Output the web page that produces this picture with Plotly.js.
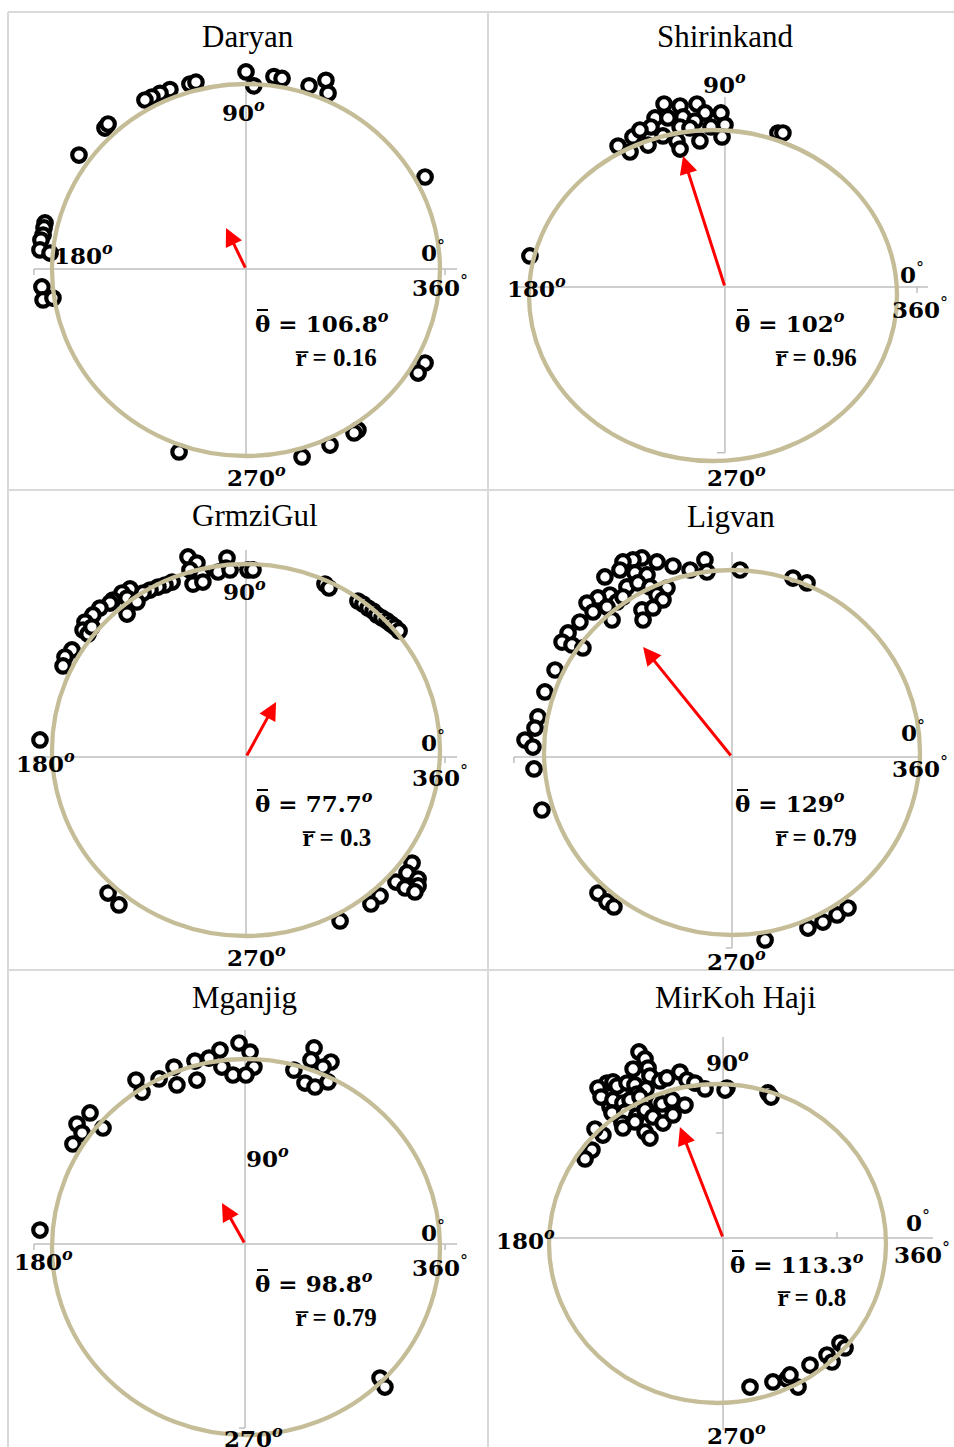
<!DOCTYPE html>
<html><head><meta charset="utf-8">
<script src="https://cdn.plot.ly/plotly-3.0.1.min.js"></script>
<style>html,body{margin:0;padding:0;background:#fff}#chart{width:954px;height:1447px}</style>
</head><body><div id="chart"></div>
<script>
const W = 954, H = 1447;

// ---------- data ----------
const stations = ['Daryan', 'Shirinkand', 'GrmziGul', 'Ligvan', 'Mganjig', 'MirKoh Haji'];
const meanAngles = ['106.8', '102', '77.7', '129', '98.8', '113.3'];
const meanR = ['0.16', '0.96', '0.3', '0.79', '0.79', '0.8'];
// mean-vector arrow head (unit-circle coordinates) as drawn
const arrowHeadX = [-0.103, -0.163, 0.155, -0.473, -0.124, -0.223];
const arrowHeadY = [0.226, 0.843, 0.258, 0.578, 0.234, 0.730];

// observations (unit-circle coordinates, stacked outward where they pile up)
const daryanX = [0, 0.04, 0.144, 0.186, 0.325, 0.412, 0.423, -0.289, -0.258, -0.392, -0.443, -0.485, -0.521, -0.727, -0.711, -0.861, 0.923, -1.036, -1.041, -1.046, -1.057, -1.062, -1.01, -1.052, -1.046, -0.995, 0.923, 0.887, 0.577, 0.557, 0.433, 0.289, -0.345];
const daryanY = [1.065, 0.99, 1.04, 1.03, 0.99, 1.02, 0.95, 1.0, 1.01, 0.97, 0.95, 0.93, 0.914, 0.763, 0.785, 0.618, 0.5, 0.253, 0.226, 0.188, 0.161, 0.108, 0.091, -0.091, -0.161, -0.151, -0.5, -0.554, -0.86, -0.876, -0.941, -1.005, -0.978];

const shirinkandX = [-0.266, -0.179, -0.087, -0.043, 0.043, -0.315, -0.245, -0.163, -0.098, -0.337, -0.179, -0.011, 0.065, -0.272, -0.413, 0.049, -0.071, -0.196, -0.179, -0.353, -0.435, -0.451, -0.516, 0.353, 0.380, -0.995, -0.125, -0.397];
const shirinkandY = [1.157, 1.145, 1.157, 1.103, 1.103, 1.073, 1.073, 1.079, 1.054, 1.018, 1.018, 1.018, 1.03, 0.964, 0.958, 0.958, 0.934, 0.934, 0.885, 0.909, 0.958, 0.867, 0.903, 0.982, 0.982, 0.239, 1.012, 1.0];

const grmziGulX = [-0.299, -0.253, -0.289, -0.227, -0.273, -0.222, -0.098, -0.103, -0.144, -0.082, 0.010, 0.036, -0.381, -0.418, -0.454, -0.495, -0.531, -0.598, -0.639, -0.613, -0.686, -0.701, -0.753, -0.789, -0.830, -0.840, -0.814, -0.794, -0.613, -0.562, -0.897, -0.933, -0.943, -1.062, 0.407, 0.428, 0.577, 0.603, 0.629, 0.655, 0.675, 0.701, 0.727, 0.747, 0.768, 0.789, 0.856, 0.830, 0.887, 0.887, 0.773, 0.820, 0.871, 0.691, 0.644, 0.485, -0.711, -0.655];
const grmziGulY = [1.038, 1.005, 0.968, 0.941, 0.892, 0.903, 1.032, 0.978, 0.957, 0.968, 0.968, 0.968, 0.903, 0.887, 0.876, 0.86, 0.844, 0.866, 0.844, 0.817, 0.806, 0.79, 0.763, 0.726, 0.688, 0.645, 0.624, 0.661, 0.731, 0.796, 0.538, 0.5, 0.452, 0.054, 0.892, 0.871, 0.801, 0.785, 0.763, 0.747, 0.726, 0.71, 0.694, 0.677, 0.661, 0.640, -0.608, -0.661, -0.694, -0.731, -0.710, -0.742, -0.763, -0.785, -0.828, -0.919, -0.769, -0.833];

const ligvanX = [-0.144, -0.133, -0.223, -0.314, -0.399, -0.479, -0.527, -0.580, -0.596, -0.676, -0.516, -0.452, -0.559, -0.5, -0.436, -0.346, -0.649, -0.612, -0.713, -0.771, -0.739, -0.665, -0.580, -0.399, -0.367, -0.479, -0.473, -0.420, -0.638, -0.809, -0.872, -0.904, -0.851, -0.793, -0.941, -0.995, -1.032, -1.048, -1.101, -1.059, -1.053, -1.011, 0.043, 0.324, 0.399, -0.713, -0.665, -0.628, 0.176, 0.404, 0.484, 0.559, 0.617];
const ligvanY = [1.055, 0.989, 1.0, 1.022, 1.044, 1.066, 1.055, 1.044, 1.0, 0.962, 0.984, 0.973, 0.907, 0.929, 0.907, 0.901, 0.863, 0.825, 0.847, 0.819, 0.77, 0.797, 0.852, 0.863, 0.836, 0.781, 0.726, 0.792, 0.726, 0.715, 0.655, 0.605, 0.589, 0.573, 0.452, 0.332, 0.195, 0.134, 0.068, 0.03, -0.09, -0.315, 1.0, 0.956, 0.929, -0.770, -0.819, -0.846, -1.027, -0.962, -0.929, -0.890, -0.852];

const mganjigX = [-0.567, -0.536, -0.448, -0.371, -0.356, -0.263, -0.253, -0.191, -0.134, -0.124, -0.067, -0.036, 0.021, 0.041, 0, -0.871, -0.804, -0.737, -0.892, -0.845, 0.351, 0.335, 0.438, 0.397, 0.247, 0.304, 0.356, 0.423, -1.062, 0.691, 0.716];
const mganjigY = [0.888, 0.824, 0.894, 0.957, 0.862, 0.989, 0.888, 1.005, 1.048, 0.957, 0.915, 1.085, 1.037, 0.957, 0.915, 0.654, 0.713, 0.633, 0.548, 0.606, 1.059, 0.995, 0.984, 0.957, 0.941, 0.872, 0.851, 0.878, 0.09, -0.697, -0.745];

const mirKohHajiX = [-0.466, -0.430, -0.412, -0.501, -0.401, -0.223, -0.656, -0.620, -0.709, -0.691, -0.596, -0.537, -0.490, -0.424, -0.341, -0.300, -0.181, -0.134, -0.074, 0.056, 0.045, 0.300, 0.318, -0.638, -0.620, -0.561, -0.478, -0.519, -0.460, -0.412, -0.359, -0.329, -0.270, -0.193, -0.626, -0.549, -0.478, -0.430, -0.383, -0.323, -0.264, -0.567, -0.490, -0.561, -0.430, -0.401, -0.680, -0.727, -0.745, -0.786, 0.193, 0.329, 0.412, 0.430, 0.478, 0.549, 0.650, 0.680, 0.727, 0.757];
const mirKohHajiY = [1.201, 1.157, 1.100, 1.094, 1.050, 1.075, 1.006, 1.013, 0.975, 0.918, 0.987, 1.006, 0.994, 0.969, 1.019, 1.038, 1.025, 1.006, 0.969, 0.975, 0.962, 0.944, 0.918, 0.856, 0.900, 0.881, 0.937, 0.900, 0.918, 0.868, 0.887, 0.875, 0.900, 0.868, 0.818, 0.824, 0.799, 0.837, 0.793, 0.755, 0.806, 0.755, 0.762, 0.724, 0.699, 0.661, 0.680, 0.718, 0.586, 0.530, -0.900, -0.868, -0.850, -0.824, -0.900, -0.762, -0.699, -0.743, -0.624, -0.655];

const seriesX = [daryanX, shirinkandX, grmziGulX, ligvanX, mganjigX, mirKohHajiX];
const seriesY = [daryanY, shirinkandY, grmziGulY, ligvanY, mganjigY, mirKohHajiY];

// ---------- layout geometry (pixels / axis-line extents) ----------
const panels = [
  {cell:[8,488,12,490], c:[246,270], k:[194,186], o:[0,0.005], h:[-1.093,1.088], v:[-1.005,1.1],
   ticks:[[-1.093,0.005,'v',6],[1.026,0.005,'v',6]],
   title:[248,36], l90:[243,111], l180:[83,254], l0:[433,251], l360:[440,286], l270:[256,476], th:[253,322], rr:[293,357]},
  {cell:[488,954,12,490], c:[713,295.5], k:[184,165.5], o:[0.065,0.051], h:[-1.065,1.168], v:[-0.95,1.2],
   ticks:[[-1.065,0.051,'v',6],[1.109,0.051,'v',6],[0.065,-0.95,'h',-8]],
   title:[725,36], l90:[724,83], l180:[536,287], l0:[912,273], l360:[920,308], l270:[736,476], th:[733,322], rr:[773,357]},
  {cell:[8,488,490,970], c:[246,750], k:[194,186], o:[0,-0.038], h:[-1.093,1.088], v:[-1.005,1.075],
   ticks:[[-1.093,-0.038,'v',6],[1.026,-0.038,'v',6]],
   title:[255,515], l90:[244,590], l180:[45,762], l0:[433,741], l360:[440,776], l270:[256,956], th:[253,802], rr:[300,837]},
  {cell:[488,954,490,970], c:[732,752.5], k:[188,182.5], o:[0,-0.025], h:[-1.16,0.99], v:[-1.071,1.099],
   ticks:[[-1.16,-0.025,'v',6],[0,-1.071,'h',-6]],
   title:[731,517], l90:null, l180:null, l0:[913,731], l360:[920,767], l270:[736,960], th:[733,802], rr:[773,837]},
  {cell:[8,488,970,1447], c:[246,1247], k:[194,188], o:[-0.005,0.016], h:[-1.093,1.088], v:[-0.963,1.154],
   ticks:[[-1.093,0.016,'v',6],[1.026,0.016,'v',6],[-0.005,-0.963,'h',-6]],
   title:[245,997], l90:[267,1157], l180:[43,1260], l0:[433,1231], l360:[440,1266], l270:[254,1437], th:[253,1282], rr:[293,1317]},
  {cell:[488,954,970,1447], c:[717.5,1243.5], k:[168.5,159.5], o:[0.033,0.034], h:[-1.012,1.279], v:[-1.169,1.295],
   ticks:[[0.709,0.034,'v',-6],[0.033,0.693,'h',-7]],
   title:[735,997], l90:[727,1061], l180:[525,1239], l0:[918,1221], l360:[922,1253], l270:[736,1434], th:[728,1263], rr:[775,1297]}
];

const px = x => x / W;
const py = y => 1 - y / H;
const GRAY = '#bfbfbf', TAN = '#c4bd97';
const LBL = {family:'DejaVu Serif', size:23, color:'#000'};

const data = [], shapes = [], annotations = [];
const layout = {width:W, height:H, margin:{l:0,r:0,t:0,b:0}, showlegend:false,
  paper_bgcolor:'#fff', plot_bgcolor:'rgba(0,0,0,0)'};

panels.forEach((p, i) => {
  const s = i === 0 ? '' : String(i + 1);
  const [L, R, T, B] = p.cell;
  layout['xaxis' + s] = {domain:[px(L), px(R)], range:[(L - p.c[0]) / p.k[0], (R - p.c[0]) / p.k[0]],
    visible:false, fixedrange:true, anchor:'y' + s};
  layout['yaxis' + s] = {domain:[py(B), py(T)], range:[(p.c[1] - B) / p.k[1], (p.c[1] - T) / p.k[1]],
    visible:false, fixedrange:true, anchor:'x' + s};
  const xr = 'x' + s, yr = 'y' + s;

  data.push({type:'scatter', mode:'markers', x:seriesX[i], y:seriesY[i], xaxis:xr, yaxis:yr,
    cliponaxis:false, hoverinfo:'skip',
    marker:{symbol:'circle', size:13.5, color:'#ffffff', line:{color:'#000000', width:4.2}}});

  shapes.push({type:'line', xref:xr, yref:yr, x0:p.h[0], x1:p.h[1], y0:p.o[1], y1:p.o[1],
    line:{color:GRAY, width:1.5}, layer:'below'});
  shapes.push({type:'line', xref:xr, yref:yr, x0:p.o[0], x1:p.o[0], y0:p.v[0], y1:p.v[1],
    line:{color:GRAY, width:1.5}, layer:'below'});
  p.ticks.forEach(t => {
    const isV = t[2] === 'v';
    shapes.push({type:'line', xref:xr, yref:yr,
      x0:t[0], y0:t[1],
      x1:isV ? t[0] : t[0] + t[3] / p.k[0],
      y1:isV ? t[1] - t[3] / p.k[1] : t[1],
      line:{color:GRAY, width:1.5}, layer:'below'});
  });
  shapes.push({type:'circle', xref:xr, yref:yr, x0:-1, x1:1, y0:-1, y1:1,
    line:{color:TAN, width:4.3}, layer:'above'});

  annotations.push({xref:xr, yref:yr, axref:xr, ayref:yr, x:arrowHeadX[i], y:arrowHeadY[i],
    ax:p.o[0], ay:p.o[1], text:'', showarrow:true, arrowhead:2, arrowsize:1.2, arrowwidth:3,
    arrowcolor:'#ff0000', standoff:0, startstandoff:0});

  const lab = (pos, text, anchor, font) => {
    if (!pos) return;
    annotations.push({xref:'paper', yref:'paper', x:px(pos[0]), y:py(pos[1]), text:text,
      showarrow:false, xanchor:anchor || 'center', yanchor:'middle', font:font || LBL});
  };
  lab(p.title, stations[i], 'center', {family:'Liberation Serif', size:31, color:'#000'});
  const sup = '<sup><i>o</i></sup>';
  const deg = '<sup>°</sup>';
  lab(p.l90, '<b>90' + sup + '</b>');
  lab(p.l180, '<b>180' + sup + '</b>');
  lab(p.l270, '<b>270' + sup + '</b>');
  lab(p.l0, '<b>0</b>' + deg);
  lab(p.l360, '<b>360</b>' + deg);
  lab(p.th, '<b>θ = ' + meanAngles[i] + sup + '</b>', 'left');
  // bar over the theta symbol
  shapes.push({type:'line', xref:'paper', yref:'paper', x0:px(p.th[0] + 4), x1:px(p.th[0] + 15),
    y0:py(p.th[1] - 12), y1:py(p.th[1] - 12), line:{color:'#000', width:2}});
  lab(p.rr, '<b>r\u0305 = ' + meanR[i] + '</b>', 'left', {family:'Liberation Serif', size:25, color:'#000'});
});

// panel frame lines
const frame = [[8,12,954,12],[8,490,954,490],[8,970,954,970],[8,12,8,1447],[488,12,488,1447]];
frame.forEach(f => shapes.push({type:'line', xref:'paper', yref:'paper', x0:px(f[0]), y0:py(f[1]),
  x1:px(f[2]), y1:py(f[3]), line:{color:'#d9d9d9', width:2}, layer:'below'}));

layout.shapes = shapes;
layout.annotations = annotations;
Plotly.newPlot('chart', data, layout, {staticPlot:true, displayModeBar:false});
</script></body></html>
